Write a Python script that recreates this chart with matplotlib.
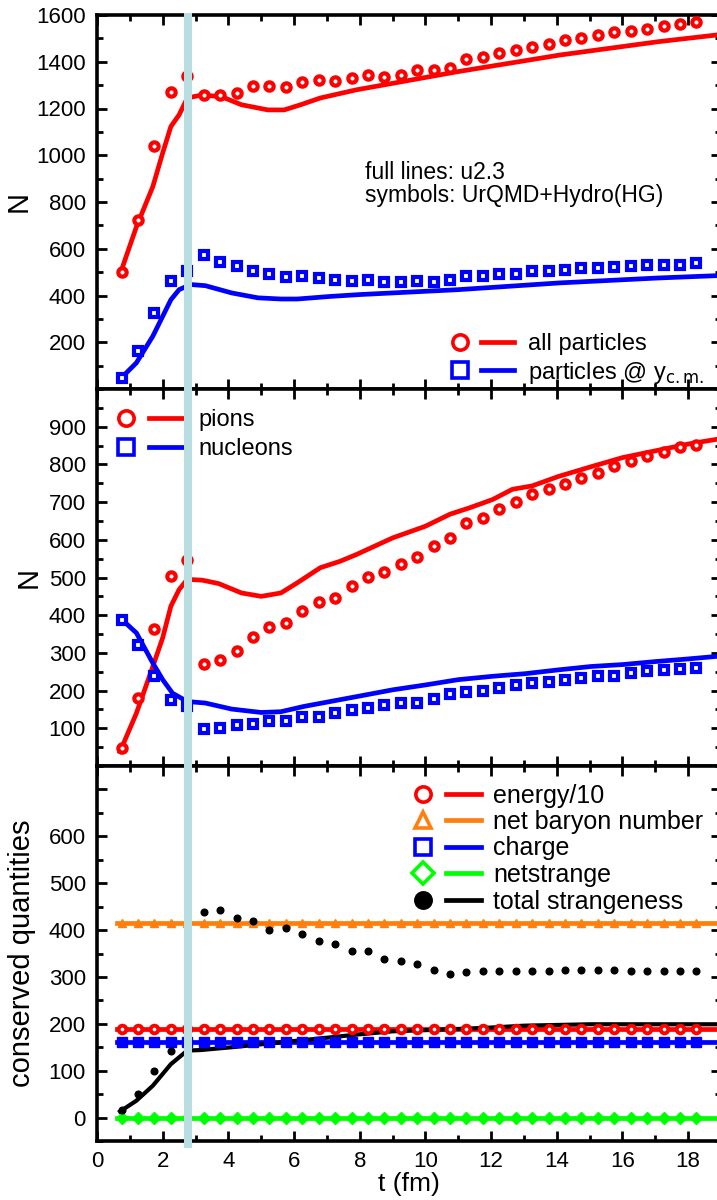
import numpy as np
import matplotlib
matplotlib.use('Agg')
import matplotlib.pyplot as plt
import matplotlib.transforms as mtransforms
from matplotlib.lines import Line2D
from matplotlib.patches import Rectangle
from matplotlib.legend_handler import HandlerTuple
from matplotlib.ticker import MultipleLocator, FixedLocator

plt.rcParams['font.family'] = ['Liberation Sans', 'DejaVu Sans']

# ---------------- data ----------------
t_sym = [0.75, 1.25, 1.75, 2.25, 2.75, 3.25, 3.75, 4.25, 4.75, 5.25, 5.75, 6.25,
         6.75, 7.25, 7.75, 8.25, 8.75, 9.25, 9.75, 10.25, 10.75, 11.25, 11.75, 12.25,
         12.75, 13.25, 13.75, 14.25, 14.75, 15.25, 15.75, 16.25, 16.75, 17.25, 17.75, 18.25]

# top panel: symbols (UrQMD+Hydro)
all_sym = [500, 724, 1041, 1271, 1340, 1258, 1258, 1267, 1297, 1297, 1292, 1312,
           1322, 1318, 1331, 1344, 1334, 1344, 1365, 1365, 1375, 1411, 1422, 1439,
           1451, 1465, 1476, 1491, 1501, 1515, 1526, 1533, 1541, 1553, 1562, 1569]
ycm_sym = [45, 161, 326, 461, 503, 575, 543, 525, 503, 494, 479, 482,
           475, 468, 461, 468, 456, 458, 461, 459, 468, 485, 485, 494,
           494, 503, 503, 508, 518, 518, 522, 525, 532, 532, 532, 539]
# top panel: lines (u2.3)
t_all_line = [0.7, 1.2, 1.7, 2.0, 2.25, 2.5, 2.75, 3.2, 3.8, 4.4, 5.2, 5.7, 6.2, 6.8, 7.9,
              11.0, 14.1, 17.1, 18.9]
all_line = [490, 694, 866, 1010, 1123, 1173, 1245, 1258, 1250, 1216, 1194, 1194, 1216, 1245,
            1280, 1358, 1429, 1486, 1515]
t_ycm_line = [0.7, 1.2, 1.7, 2.0, 2.25, 2.5, 2.85, 3.3, 4.1, 4.9, 5.6, 6.1, 7.1, 8.0,
              11.0, 14.1, 17.1, 18.9]
ycm_line = [42, 112, 226, 311, 382, 425, 447, 442, 411, 390, 385, 385, 396, 404,
            425, 454, 475, 485]

# middle panel
pion_sym = [47, 180, 363, 505, 546, 271, 280, 304, 341, 369, 379, 410,
            434, 446, 477, 501, 514, 535, 555, 583, 605, 644, 659, 681,
            699, 721, 734, 749, 765, 778, 796, 809, 823, 832, 845, 851]
nucl_sym = [388, 322, 239, 176, 160, 98, 100, 109, 112, 120, 120, 129,
            131, 140, 149, 153, 162, 167, 168, 177, 191, 195, 200, 206,
            215, 220, 224, 227, 233, 238, 239, 246, 251, 255, 257, 260]
t_pion_line = [0.7, 1.2, 1.7, 2.0, 2.25, 2.5, 2.75, 3.2, 3.7, 4.4, 5.0, 5.6, 6.1, 6.8, 7.4,
               7.9, 9.0, 10.0, 10.75, 11.35, 12.05, 12.65, 13.25, 14.05, 15.05, 16.0, 17.0,
               18.0, 18.9]
pion_line = [38, 140, 264, 340, 424, 468, 495, 493, 484, 459, 450, 459, 486, 526, 543,
             561, 605, 636, 668, 685, 707, 734, 743, 768, 794, 818, 836, 854, 867]
t_nucl_line = [0.7, 1.2, 1.7, 2.0, 2.3, 2.75, 3.3, 4.1, 5.0, 5.6, 6.3, 7.1, 7.9, 9.0, 10.0,
               11.0, 12.05, 13.05, 14.05, 15.05, 16.0, 17.0, 18.0, 18.9]
nucl_line = [393, 353, 273, 229, 193, 171, 167, 151, 142, 144, 158, 171, 184, 202, 215,
             229, 238, 245, 255, 264, 269, 277, 284, 291]

# bottom panel (conserved quantities)
energy_sym = [190] * 36
baryon_sym = [415] * 36
charge_sym = [162] * 36
netstr_sym = [0] * 36
totstr_sym = [16, 50, 100, 143, np.nan, 439, 442, 425, 419, 401, 405, 391,
              377, 370, 355, 355, 338, 335, 328, 314, 306, 311, 313, 313,
              313, 313, 313, 314, 314, 314, 314, 313, 313, 313, 313, 312]
t_const_line = [0.6, 18.9]
energy_line = [190, 190]
baryon_line = [415, 415]
charge_line = [162, 162]
netstr_line = [0, 0]
t_totstr_line = [0.7, 1.2, 1.7, 2.25, 2.75, 3.15, 4.1, 5.1, 6.1, 7.1, 7.9, 9.0, 11.0, 12.0,
                 13.0, 15.0, 18.9]
totstr_line = [13, 36, 68, 114, 143, 144, 150, 157, 164, 171, 177, 184, 189, 192, 196, 199, 199]

band_t = (2.66, 2.90)

RED = '#ff0000'
BLUE = '#0000ff'
ORANGE = '#ff7f0e'
GREEN = '#00ff00'
BLACK = '#000000'
BAND = '#b8dee2'

# ---------------- figure ----------------
W, H = 717, 1200
fig = plt.figure(figsize=(W / 100, H / 100), dpi=100)


def rect(l, t, r, b):
    return [l / W, 1 - b / H, (r - l) / W, (b - t) / H]


ax1 = fig.add_axes(rect(97, 15, 721, 389))
ax2 = fig.add_axes(rect(97, 389, 721, 766))
ax3 = fig.add_axes(rect(97, 766, 721, 1141))

for ax in (ax1, ax2, ax3):
    ax.set_xlim(0, 19)
    ax.xaxis.set_major_locator(MultipleLocator(2))
    ax.xaxis.set_minor_locator(MultipleLocator(1))
    ax.tick_params(which='both', direction='in', top=True, right=True, width=2.0,
                   labelsize=16)
    ax.tick_params(which='major', length=7)
    ax.tick_params(which='minor', length=4)
    ax.tick_params(axis='y', pad=8)
    ax.tick_params(axis='x', pad=7)
    for s in ax.spines.values():
        s.set_linewidth(2.6)

ax1.tick_params(labelbottom=False)
ax2.tick_params(labelbottom=False)

LW = 3.4
HT = HandlerTuple(ndivide=None, pad=0.2)
# top panel
ax1.plot(t_all_line, all_line, color=RED, lw=LW, zorder=2)
ax1.plot(t_ycm_line, ycm_line, color=BLUE, lw=LW, zorder=2)
ax1.plot(t_sym, all_sym, 'o', color=RED, ms=6, mew=3, mfc='white', ls='none', zorder=3)
ax1.plot(t_sym, ycm_sym, 's', color=BLUE, ms=6, mew=3, mfc='white', ls='none', zorder=3)
ax1.set_ylim(0, 1600)
ax1.yaxis.set_major_locator(FixedLocator([200, 400, 600, 800, 1000, 1200, 1400, 1600]))
ax1.yaxis.set_minor_locator(MultipleLocator(100))
ax1.set_ylabel('N', fontsize=21)
ax1.yaxis.set_label_coords(-0.103, 0.5)
ax1.text(0.429, 0.548, 'full lines: u2.3\nsymbols: UrQMD+Hydro(HG)', transform=ax1.transAxes,
         fontsize=16.5, va='center', ha='left', linespacing=0.95)

h_all = (Line2D([], [], marker='o', color=RED, ms=11, mew=2.6, mfc='white', ls='none'),
         Line2D([], [], color=RED, lw=LW))
h_ycm = (Line2D([], [], marker='s', color=BLUE, ms=11, mew=2.6, mfc='white', ls='none'),
         Line2D([], [], color=BLUE, lw=LW))
ax1.legend([h_all, h_ycm], ['all particles', r'particles @ y$_{\mathrm{c.m.}}$'],
           handler_map={tuple: HT},
           handlelength=3.0, handletextpad=0.6, labelspacing=0.2,
           frameon=False, fontsize=17, loc='lower right',
           bbox_to_anchor=(1.0, -0.035), borderaxespad=0.3)

# middle panel
ax2.plot(t_pion_line, pion_line, color=RED, lw=LW, zorder=2)
ax2.plot(t_nucl_line, nucl_line, color=BLUE, lw=LW, zorder=2)
ax2.plot(t_sym, pion_sym, 'o', color=RED, ms=6, mew=3, mfc='white', ls='none', zorder=3)
ax2.plot(t_sym, nucl_sym, 's', color=BLUE, ms=6, mew=3, mfc='white', ls='none', zorder=3)
ax2.set_ylim(0, 1000)
ax2.yaxis.set_major_locator(FixedLocator([100, 200, 300, 400, 500, 600, 700, 800, 900]))
ax2.yaxis.set_minor_locator(MultipleLocator(50))
ax2.set_ylabel('N', fontsize=21)
ax2.yaxis.set_label_coords(-0.087, 0.5)

h_pi = (Line2D([], [], marker='o', color=RED, ms=11, mew=2.6, mfc='white', ls='none'),
        Line2D([], [], color=RED, lw=LW))
h_nu = (Line2D([], [], marker='s', color=BLUE, ms=11, mew=2.6, mfc='white', ls='none'),
        Line2D([], [], color=BLUE, lw=LW))
ax2.legend([h_pi, h_nu], ['pions', 'nucleons'],
           handler_map={tuple: HT},
           handlelength=3.2, handletextpad=0.6, labelspacing=0.3,
           frameon=False, fontsize=17, loc='upper left',
           bbox_to_anchor=(-0.008, 0.99), borderaxespad=0.3)

# bottom panel
ax3.plot(t_const_line, netstr_line, color=GREEN, lw=LW, zorder=2)
ax3.plot(t_const_line, charge_line, color=BLUE, lw=LW, zorder=2)
ax3.plot(t_totstr_line, totstr_line, color=BLACK, lw=3.0, zorder=2.5)
ax3.plot(t_const_line, energy_line, color=RED, lw=LW, zorder=2)
ax3.plot(t_const_line, baryon_line, color=ORANGE, lw=LW, zorder=2)
ax3.plot(t_sym, netstr_sym, 'D', color=GREEN, ms=6, ls='none', zorder=3)
ax3.plot(t_sym, charge_sym, 's', color=BLUE, ms=7, ls='none', zorder=3)
ax3.plot(t_sym, energy_sym, 'o', color=RED, ms=5.5, mew=2.8, mfc='white', ls='none', zorder=3)
ax3.plot(t_sym, baryon_sym, '^', color=ORANGE, ms=6, ls='none', zorder=3)
ax3.plot(t_sym, totstr_sym, 'o', color=BLACK, ms=4.8, ls='none', zorder=3)
ax3.set_ylim(-50, 750)
ax3.yaxis.set_major_locator(FixedLocator([0, 100, 200, 300, 400, 500, 600, 700]))
ax3.yaxis.set_minor_locator(MultipleLocator(50))
ax3.set_yticklabels(['0', '100', '200', '300', '400', '500', '600', ''])
ax3.set_ylabel('conserved quantities', fontsize=21)
ax3.yaxis.set_label_coords(-0.097, 0.5)
ax3.set_xlabel('t (fm)', fontsize=19, labelpad=0)
ax3.set_xticks([0, 2, 4, 6, 8, 10, 12, 14, 16, 18])


def hdl(marker, color, filled=False):
    m = Line2D([], [], marker=marker, color=color, ms=11, mew=2.6,
               mfc=color if filled else 'white', ls='none')
    l = Line2D([], [], color=color, lw=LW)
    return (m, l)


ax3.legend([hdl('o', RED), hdl('^', ORANGE), hdl('s', BLUE), hdl('D', GREEN),
            hdl('o', BLACK, True)],
           ['energy/10', 'net baryon number', 'charge', 'netstrange', 'total strangeness'],
           handler_map={tuple: HT},
           handlelength=3.0, handletextpad=0.5, labelspacing=0.1,
           frameon=False, fontsize=18, loc='upper right',
           bbox_to_anchor=(1.0, 1.0), borderaxespad=0.3)

# vertical band across all panels (drawn on top)
trans = mtransforms.blended_transform_factory(ax1.transData, fig.transFigure)
band = Rectangle((band_t[0], 1 - 1148 / H), band_t[1] - band_t[0], (1148 - 13) / H,
                 transform=trans, facecolor=BAND, edgecolor='none', zorder=10)
fig.add_artist(band)

fig.savefig('out.png', dpi=100)
